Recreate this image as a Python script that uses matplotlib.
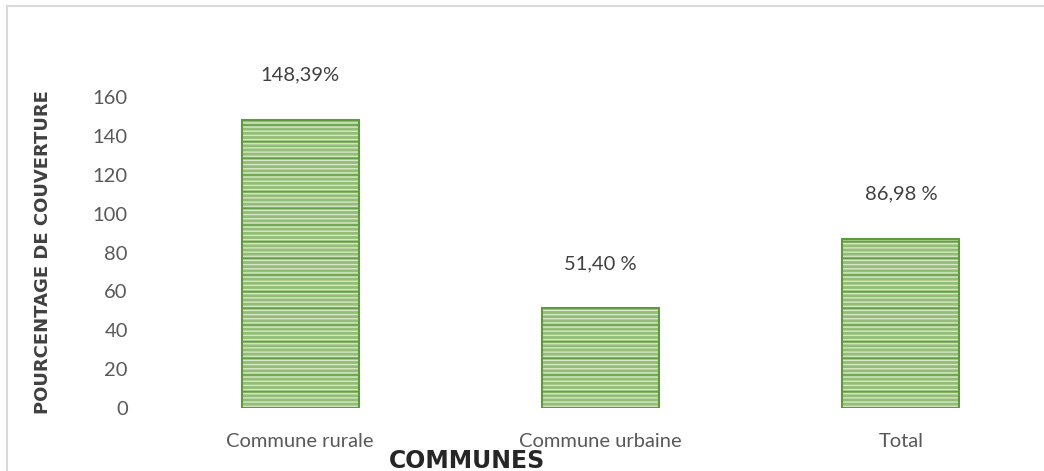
import matplotlib.pyplot as plt
from matplotlib.patches import Rectangle

categories = ["Commune rurale", "Commune urbaine", "Total"]
couverture = [148.39, 51.40, 86.98]
labels = ["148,39%", "51,40 %", "86,98 %"]
yticks = [0, 20, 40, 60, 80, 100, 120, 140, 160]

plt.rcParams["font.family"] = ["Lato", "DejaVu Sans"]
plt.rcParams["hatch.linewidth"] = 1.0

W, H = 1044, 471
fig = plt.figure(figsize=(W / 100, H / 100), dpi=100)

# light grey chart border
fig.patches.append(Rectangle((7 / W, -0.05), 1.1, 1 - 6 / H + 0.05,
                             transform=fig.transFigure, fill=False,
                             edgecolor="#d9d9d9", linewidth=1.5))

ax = fig.add_axes([150 / W, 1 - 408 / H, 901 / W, 311 / H])
x = range(len(categories))
width = 0.39

# striped green fill: light stripes, darker stripes, then outline
ax.bar(x, couverture, width, color="#93bd75", edgecolor="#d6e7c9",
       hatch="----", linewidth=0, zorder=2)
ax.bar(x, couverture, width, color="none", edgecolor="#63a043",
       hatch="-", linewidth=0, zorder=3)
ax.bar(x, couverture, width, color="none", edgecolor="#5e9a3c",
       linewidth=1.5, zorder=4)

for xi, v, lab in zip(x, couverture, labels):
    ax.text(xi, v + 23, lab, ha="center", va="center",
            fontsize=14.5, color="#404040")

ax.set_xlim(-0.5, 2.5)
ax.set_ylim(0, 160)
ax.set_yticks(yticks)
ax.set_xticks(list(x))
ax.set_xticklabels(categories)
ax.tick_params(length=0, labelsize=14.5, labelcolor="#595959")
ax.tick_params(axis="y", pad=16)
ax.tick_params(axis="x", pad=18)
for s in ax.spines.values():
    s.set_visible(False)

ax.set_ylabel("POURCENTAGE DE COUVERTURE", fontsize=13, fontweight="bold",
              color="#404040", labelpad=29, family="DejaVu Sans")
fig.text(467 / W, 1 - 449 / H, "COMMUNES", ha="center", va="top",
         fontsize=17, fontweight="heavy", color="#262626",
         family="DejaVu Sans")

fig.savefig("out.png", dpi=100)
